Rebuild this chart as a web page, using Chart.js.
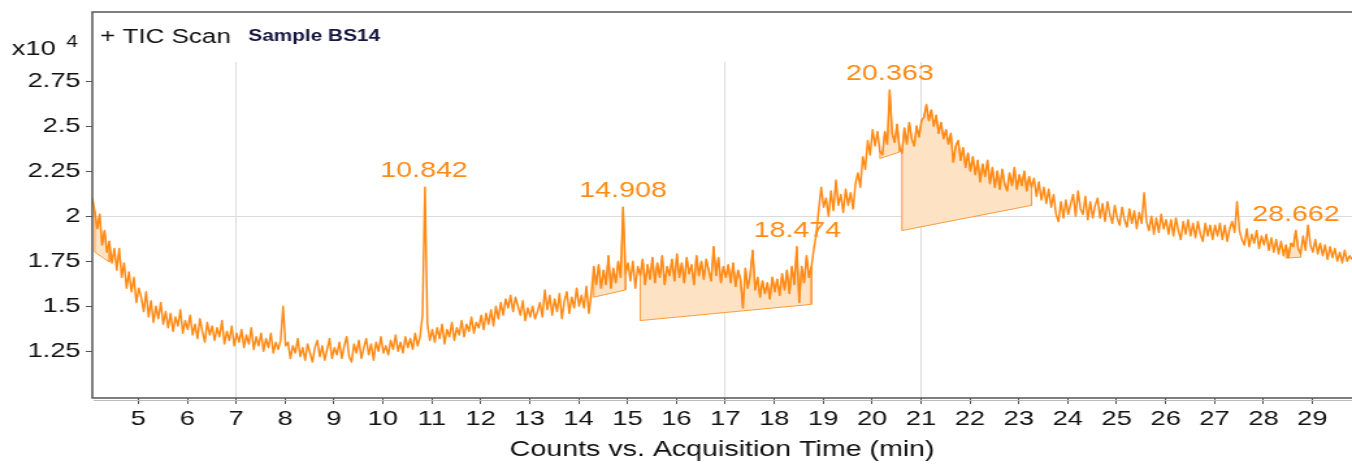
<!DOCTYPE html>
<html>
<head>
<meta charset="utf-8">
<title>TIC Scan - Sample BS14</title>
<script src="https://cdn.jsdelivr.net/npm/chart.js"></script>
<style>
  html, body { margin: 0; padding: 0; background: #fff; overflow: hidden; }
  /* the reference picture is stretched sideways, so the chart is drawn narrower and widened */
  #wrap { width: 1040px; height: 464px; transform: scaleX(1.3); transform-origin: 0 0; }
</style>
</head>
<body>
<div id="wrap"><canvas id="tic-chart" width="1040" height="464"></canvas></div>
<script>
// acquisition time of the first sample and the sampling step (min)
const startTime = 4.06;
const timeStep = 0.05;

// TIC counts, x10^4
const counts = [
  2.10, 2.03, 1.93, 2.01, 1.84, 1.92, 1.80, 1.86, 1.74, 1.82,
  1.70, 1.82, 1.66, 1.74, 1.60, 1.69, 1.58, 1.66, 1.52, 1.60,
  1.55, 1.47, 1.58, 1.44, 1.53, 1.41, 1.50, 1.43, 1.52, 1.40,
  1.47, 1.38, 1.46, 1.36, 1.44, 1.39, 1.48, 1.35, 1.42, 1.37,
  1.45, 1.34, 1.40, 1.32, 1.43, 1.36, 1.30, 1.41, 1.34, 1.39,
  1.31, 1.38, 1.33, 1.42, 1.29, 1.36, 1.31, 1.39, 1.28, 1.35,
  1.30, 1.37, 1.27, 1.34, 1.29, 1.38, 1.26, 1.33, 1.28, 1.35,
  1.25, 1.32, 1.27, 1.35, 1.24, 1.30, 1.26, 1.31, 1.50, 1.28,
  1.30, 1.21, 1.28, 1.24, 1.32, 1.22, 1.27, 1.20, 1.29, 1.24,
  1.19, 1.27, 1.31, 1.22, 1.28, 1.20, 1.26, 1.32, 1.21, 1.27,
  1.23, 1.30, 1.21, 1.28, 1.33, 1.22, 1.19, 1.29, 1.24, 1.31,
  1.21, 1.27, 1.32, 1.23, 1.29, 1.20, 1.30, 1.25, 1.33, 1.24,
  1.28, 1.23, 1.31, 1.26, 1.34, 1.25, 1.30, 1.24, 1.33, 1.27,
  1.32, 1.26, 1.35, 1.28, 1.33, 1.45, 2.16, 1.40, 1.31, 1.37,
  1.30, 1.38, 1.32, 1.40, 1.29, 1.37, 1.33, 1.41, 1.31, 1.38,
  1.34, 1.42, 1.33, 1.40, 1.36, 1.44, 1.35, 1.41, 1.38, 1.45,
  1.37, 1.46, 1.40, 1.48, 1.39, 1.50, 1.43, 1.52, 1.45, 1.54,
  1.49, 1.56, 1.47, 1.55, 1.50, 1.45, 1.53, 1.42, 1.49, 1.44,
  1.50, 1.43, 1.47, 1.52, 1.44, 1.59, 1.48, 1.56, 1.45, 1.54,
  1.47, 1.57, 1.43, 1.53, 1.58, 1.46, 1.55, 1.49, 1.60, 1.50,
  1.56, 1.49, 1.61, 1.46, 1.57, 1.72, 1.62, 1.73, 1.60, 1.70,
  1.62, 1.78, 1.60, 1.71, 1.63, 1.75, 1.66, 2.05, 1.68, 1.74,
  1.64, 1.75, 1.60, 1.72, 1.67, 1.76, 1.62, 1.73, 1.65, 1.77,
  1.63, 1.74, 1.66, 1.78, 1.62, 1.72, 1.67, 1.76, 1.64, 1.79,
  1.66, 1.74, 1.63, 1.77, 1.68, 1.73, 1.62, 1.78, 1.67, 1.75,
  1.65, 1.76, 1.70, 1.64, 1.83, 1.67, 1.77, 1.63, 1.72, 1.66,
  1.73, 1.63, 1.74, 1.61, 1.70, 1.65, 1.49, 1.71, 1.60, 1.68,
  1.81, 1.59, 1.66, 1.55, 1.64, 1.57, 1.63, 1.54, 1.66, 1.58,
  1.65, 1.56, 1.68, 1.59, 1.70, 1.57, 1.72, 1.62, 1.83, 1.52,
  1.72, 1.63, 1.78, 1.66, 1.72, 1.82, 1.90, 2.04, 2.16, 2.05,
  2.10, 2.00, 2.14, 2.03, 2.20, 2.06, 2.12, 2.02, 2.15, 2.06,
  2.13, 2.04, 2.18, 2.24, 2.16, 2.33, 2.26, 2.42, 2.34, 2.48,
  2.39, 2.47, 2.36, 2.34, 2.47, 2.40, 2.70, 2.46, 2.41, 2.51,
  2.38, 2.35, 2.49, 2.40, 2.52, 2.43, 2.39, 2.50, 2.44, 2.53,
  2.55, 2.62, 2.53, 2.59, 2.50, 2.56, 2.46, 2.52, 2.43, 2.48,
  2.40, 2.46, 2.30, 2.39, 2.42, 2.31, 2.38, 2.27, 2.35, 2.25,
  2.33, 2.23, 2.31, 2.19, 2.29, 2.22, 2.31, 2.18, 2.27, 2.16,
  2.25, 2.15, 2.26, 2.18, 2.14, 2.24, 2.17, 2.27, 2.15, 2.23,
  2.17, 2.25, 2.14, 2.22, 2.16, 2.21, 2.11, 2.19, 2.09, 2.16,
  2.07, 2.15, 2.05, 2.12, 2.01, 1.97, 2.08, 1.99, 2.09, 2.01,
  2.07, 2.12, 2.00, 2.14, 2.04, 2.01, 2.11, 1.98, 2.08, 1.99,
  2.06, 2.10, 1.99, 2.07, 1.97, 2.08, 2.01, 1.96, 2.06, 1.99,
  1.95, 2.05, 1.98, 1.94, 2.04, 1.96, 2.03, 1.93, 2.02, 1.96,
  2.13, 1.97, 1.92, 2.00, 1.90, 1.99, 1.91, 2.01, 1.93, 1.98,
  1.90, 1.98, 1.89, 1.99, 1.92, 1.87, 1.97, 1.90, 1.98, 1.89,
  1.96, 1.88, 1.97, 1.90, 1.86, 1.96, 1.89, 1.95, 1.87, 1.95,
  1.89, 1.96, 1.87, 1.95, 1.86, 1.93, 1.97, 1.91, 2.08, 1.92,
  1.87, 1.84, 1.93, 1.83, 1.90, 1.85, 1.92, 1.82, 1.89, 1.84,
  1.90, 1.81, 1.88, 1.80, 1.87, 1.79, 1.86, 1.78, 1.84, 1.77,
  1.85, 1.83, 1.92, 1.82, 1.79, 1.89, 1.81, 1.95, 1.84, 1.80,
  1.87, 1.79, 1.85, 1.78, 1.84, 1.76, 1.83, 1.77, 1.82, 1.75,
  1.80, 1.74, 1.81, 1.75, 1.78, 1.76
];

const xTicks = [5, 6, 7, 8, 9, 10, 11, 12, 13, 14, 15, 16, 17, 18, 19, 20, 21, 22, 23, 24, 25, 26, 27, 28, 29];
const yTicks = [1.25, 1.5, 1.75, 2, 2.25, 2.5, 2.75];
const xGridAt = [7, 17, 21];
const yGridAt = [2];

// labelled peaks (retention time, min)
const peakTimes = [10.842, 14.908, 18.474, 20.363, 28.662];

// integrated areas: start / end time and baseline counts at each end
const regionStart = [4.11, 14.31, 15.26, 20.16, 20.61, 28.46];
const regionEnd = [4.41, 14.96, 18.76, 20.56, 23.26, 28.76];
const baseStart = [1.80, 1.55, 1.42, 2.32, 1.92, 1.767];
const baseEnd = [1.745, 1.59, 1.51, 2.356, 2.06, 1.772];

const times = counts.map((c, i) => +(startTime + i * timeStep).toFixed(2));
const trace = times.map((t, i) => ({ x: t, y: counts[i] }));

const orange = '#ff8a14';
const fontFamily = '"Liberation Sans", Arial, sans-serif';
Chart.defaults.font.family = fontFamily;

function regionPoints(i) {
    const pts = trace.filter(p => p.x >= regionStart[i] - 1e-6 && p.x <= regionEnd[i] + 1e-6);
    pts.push({ x: regionEnd[i], y: baseEnd[i] }, { x: regionStart[i], y: baseStart[i] }, pts[0]);
    return pts;
}

const regionSets = regionStart.map((s, i) => ({
    data: regionPoints(i),
    borderColor: '#ff9a3a',
    borderWidth: 1,
    backgroundColor: '#fde2c4',
    fill: 'shape',
    pointRadius: 0,
    tension: 0
}));

const decor = {
    id: 'decor',
    afterDatasetsDraw(chart) {
        const { ctx, scales: { x, y } } = chart;
        ctx.save();
        ctx.font = '22px ' + fontFamily;
        ctx.fillStyle = orange;
        ctx.textAlign = 'center';
        ctx.textBaseline = 'bottom';
        peakTimes.forEach(pt => {
            // apex of the trace close to the labelled time
            let top = -Infinity;
            trace.forEach(p => { if (Math.abs(p.x - pt) < 0.06) top = Math.max(top, p.y); });
            ctx.fillText(pt.toFixed(3), x.getPixelForValue(pt), y.getPixelForValue(top) - 5);
        });
        ctx.restore();
    },
    afterDraw(chart) {
        const { ctx, chartArea: a } = chart;
        ctx.save();
        // frame
        const frameTop = 12;
        ctx.strokeStyle = '#bbb';
        ctx.lineWidth = 1;
        ctx.beginPath();
        ctx.moveTo(a.left + 1, a.bottom + 2.5);
        ctx.lineTo(a.right, a.bottom + 2.5);
        ctx.stroke();
        ctx.strokeStyle = '#555';
        ctx.lineWidth = 1.5;
        ctx.beginPath();
        ctx.moveTo(a.right + 2, frameTop);
        ctx.lineTo(a.left, frameTop);
        ctx.lineTo(a.left, a.bottom);
        ctx.lineTo(a.right + 2, a.bottom);
        ctx.stroke();

        ctx.fillStyle = '#111';
        ctx.textBaseline = 'alphabetic';
        ctx.font = '21px ' + fontFamily;
        ctx.fillText('x10', 9, 55);
        ctx.font = '16px ' + fontFamily;
        ctx.fillText('4', 51, 47);
        ctx.font = '20px ' + fontFamily;
        ctx.fillText('+ TIC Scan', 77, 43);
        ctx.fillStyle = '#161640';
        ctx.font = 'bold 16px ' + fontFamily;
        ctx.fillText('Sample BS14', 191, 41);
        ctx.restore();
    }
};

const ctx = document.getElementById('tic-chart');

ctx.chartInstance = new Chart(ctx, {
    type: 'line',
    data: {
        datasets: [{
            data: trace,
            borderColor: orange,
            borderWidth: 1.5,
            borderJoinStyle: 'round',
            pointRadius: 0,
            fill: false,
            tension: 0
        }, ...regionSets]
    },
    options: {
        responsive: false,
        animation: false,
        devicePixelRatio: 1,
        layout: { padding: { top: 62, right: 0, left: 0, bottom: 0 } },
        scales: {
            x: {
                type: 'linear',
                min: 4.06,
                max: 29.81,
                afterBuildTicks: scale => { scale.ticks = xTicks.map(v => ({ value: v })); },
                afterFit: scale => { scale.height = 66; },
                ticks: {
                    autoSkip: false,
                    maxRotation: 0,
                    padding: 3,
                    color: '#111',
                    font: { size: 21 },
                    callback: v => String(v)
                },
                grid: {
                    color: c => xGridAt.includes(c.tick && c.tick.value) ? '#dcdcdc' : 'rgba(0,0,0,0)',
                    tickColor: '#555',
                    tickLength: 6,
                    lineWidth: 1
                },
                border: { display: false },
                title: {
                    display: true,
                    text: 'Counts vs. Acquisition Time (min)',
                    color: '#111',
                    font: { size: 22 },
                    padding: { top: 0, bottom: 1 }
                }
            },
            y: {
                min: 0.99,
                max: 2.856,
                afterBuildTicks: scale => { scale.ticks = yTicks.map(v => ({ value: v })); },
                afterFit: scale => { scale.width = 71; },
                ticks: {
                    padding: 4,
                    color: '#111',
                    font: { size: 21 },
                    callback: v => String(v)
                },
                grid: {
                    color: c => yGridAt.includes(c.tick && c.tick.value) ? '#dcdcdc' : 'rgba(0,0,0,0)',
                    tickColor: '#555',
                    tickLength: 5,
                    lineWidth: 1
                },
                border: { display: false }
            }
        },
        plugins: {
            legend: { display: false },
            tooltip: { enabled: false }
        }
    },
    plugins: [decor]
});
</script>
</body>
</html>
